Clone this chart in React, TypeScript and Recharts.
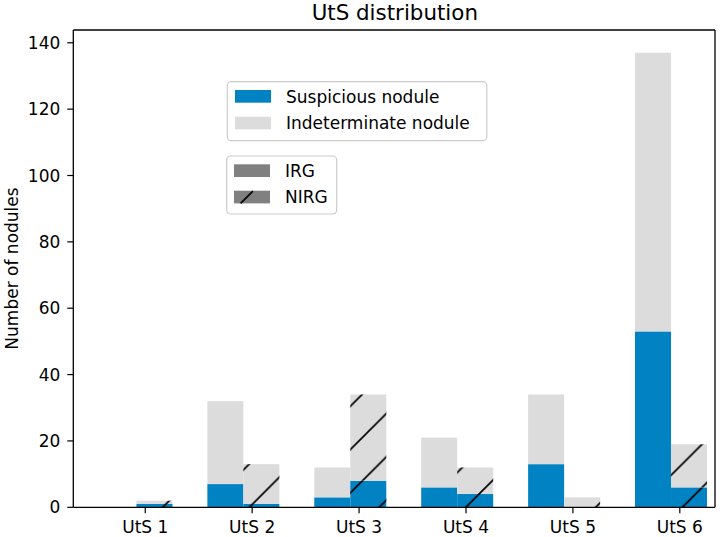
import React from 'react';
import { ComposedChart, Bar, XAxis, YAxis, Legend, ReferenceLine } from 'recharts';

// ---- data ----
const categories = ['UtS 1', 'UtS 2', 'UtS 3', 'UtS 4', 'UtS 5', 'UtS 6'];
const irgSuspicious = [0, 7, 3, 6, 13, 53];
const irgIndeterminate = [0, 25, 9, 15, 21, 84];
const nirgSuspicious = [1, 1, 8, 4, 0, 6];
const nirgIndeterminate = [1, 12, 26, 8, 3, 13];
const yTicks = [0, 20, 40, 60, 80, 100, 120, 140];
const xTicks = [0, 1, 2, 3, 4, 5];

// ---- layout / style constants ----
const W = 720;
const H = 537;
const PAIR_OFFSET = -0.078;
const X_MIN = -0.673;
const X_MAX = 5.329;
const Y_MAX = 143.85;
const BLUE = '#0082c3';
const GRAY = '#dcdcdc';
const FONT = 'DejaVu Sans';
const HATCH_P = 43.3;
const HATCH_OX = 20.5;

const data = categories.map((name, i) => ({
  name,
  x: i + PAIR_OFFSET,
  irgS: irgSuspicious[i],
  irgI: irgIndeterminate[i],
  nirgS: nirgSuspicious[i],
  nirgI: nirgIndeterminate[i],
}));

const HatchedBar = (props: any) => {
  const { x, y, width, height, fill } = props;
  if (!height || height <= 0 || !width) return <g />;
  return (
    <g>
      <rect x={x} y={y} width={width} height={height} fill={fill} />
      <rect x={x} y={y} width={width} height={height} fill="url(#hatch)" />
    </g>
  );
};

const PlainBar = (props: any) => {
  const { x, y, width, height, fill } = props;
  if (!height || height <= 0 || !width) return <g />;
  return <rect x={x} y={y} width={width} height={height} fill={fill} />;
};

const renderLegend = () => (
  <svg width={W} height={H} style={{ position: 'absolute', left: 0, top: 0, pointerEvents: 'none' }}>
    <g fontFamily={FONT} fontSize={17} fill="#000">
      <rect x={227.3} y={81.7} width={259.5} height={59} rx={4} ry={4} fill="#fff" fillOpacity={0.8} stroke="#cccccc" strokeWidth={1.2} />
      <rect x={235} y={90} width={36} height={12.7} fill={BLUE} />
      <text x={286} y={102.8}>Suspicious nodule</text>
      <rect x={235} y={116.7} width={36} height={12.7} fill={GRAY} />
      <text x={286} y={128.5}>Indeterminate nodule</text>

      <rect x={226.7} y={156} width={110} height={58} rx={4} ry={4} fill="#fff" fillOpacity={0.8} stroke="#cccccc" strokeWidth={1.2} />
      <rect x={234} y={164.3} width={36} height={12.7} fill="#808080" />
      <text x={285} y={176.6}>IRG</text>
      <rect x={234} y={190.7} width={36} height={12.7} fill="#808080" />
      <line x1={240.6} y1={203.4} x2={252.9} y2={191.1} stroke="#000" strokeWidth={1.7} />
      <text x={285} y={202.8}>NIRG</text>
    </g>
  </svg>
);

export default function App() {
  return (
    <div style={{ position: 'absolute', left: 0, top: 0, width: W, height: H, background: '#fff', fontFamily: FONT }}>
      <ComposedChart
        width={W}
        height={H}
        data={data}
        margin={{ top: 30, right: 5, bottom: 0, left: 13.3 }}
        barGap={0}
      >
        <defs>
          <pattern id="hatch" patternUnits="userSpaceOnUse" width={HATCH_P} height={HATCH_P} x={HATCH_OX} y={0}>
            <path
              d={`M0,${HATCH_P} L${HATCH_P},0 M${-HATCH_P / 4},${HATCH_P / 4} L${HATCH_P / 4},${-HATCH_P / 4} M${(3 * HATCH_P) / 4},${(5 * HATCH_P) / 4} L${(5 * HATCH_P) / 4},${(3 * HATCH_P) / 4}`}
              stroke="#000"
              strokeWidth={1.7}
            />
          </pattern>
        </defs>
        <text x={394.8} y={20} textAnchor="middle" fontFamily={FONT} fontSize={21.4} fill="#000">
          UtS distribution
        </text>
        <text
          x={18}
          y={268.5}
          textAnchor="middle"
          transform="rotate(-90, 18, 268.5)"
          fontFamily={FONT}
          fontSize={17}
          fill="#000"
        >
          Number of nodules
        </text>
        <XAxis
          dataKey="x"
          type="number"
          domain={[X_MIN, X_MAX]}
          allowDataOverflow
          ticks={xTicks}
          interval={0}
          tickFormatter={(v: number) => categories[Math.round(v)] ?? ''}
          height={29.7}
          tickSize={6}
          tickMargin={8}
          stroke="#000"
          axisLine={{ stroke: '#000', strokeWidth: 1.3 }}
          tickLine={{ stroke: '#000', strokeWidth: 1.2 }}
          tick={{ fontSize: 17, fill: '#000', fontFamily: FONT }}
        />
        <YAxis
          type="number"
          domain={[0, Y_MAX]}
          allowDataOverflow
          ticks={yTicks}
          interval={0}
          width={60}
          tickSize={6}
          tickMargin={7}
          axisLine={{ stroke: '#000', strokeWidth: 1.3 }}
          tickLine={{ stroke: '#000', strokeWidth: 1.2 }}
          tick={{ fontSize: 17, fill: '#000', fontFamily: FONT }}
        />
        <Bar dataKey="irgS" stackId="irg" fill={BLUE} barSize={36} shape={PlainBar} isAnimationActive={false} />
        <Bar dataKey="irgI" stackId="irg" fill={GRAY} barSize={36} shape={PlainBar} isAnimationActive={false} />
        <Bar dataKey="nirgS" stackId="nirg" fill={BLUE} barSize={36} shape={HatchedBar} isAnimationActive={false} />
        <Bar dataKey="nirgI" stackId="nirg" fill={GRAY} barSize={36} shape={HatchedBar} isAnimationActive={false} />
        <ReferenceLine y={Y_MAX} stroke="#000" strokeWidth={1.3} ifOverflow="visible" />
        <ReferenceLine x={X_MAX} stroke="#000" strokeWidth={1.3} ifOverflow="visible" />
        <Legend
          content={renderLegend}
          layout="horizontal"
          verticalAlign="middle"
          wrapperStyle={{ left: 0, top: 0, width: W, height: H, pointerEvents: 'none' }}
        />
      </ComposedChart>
    </div>
  );
}
